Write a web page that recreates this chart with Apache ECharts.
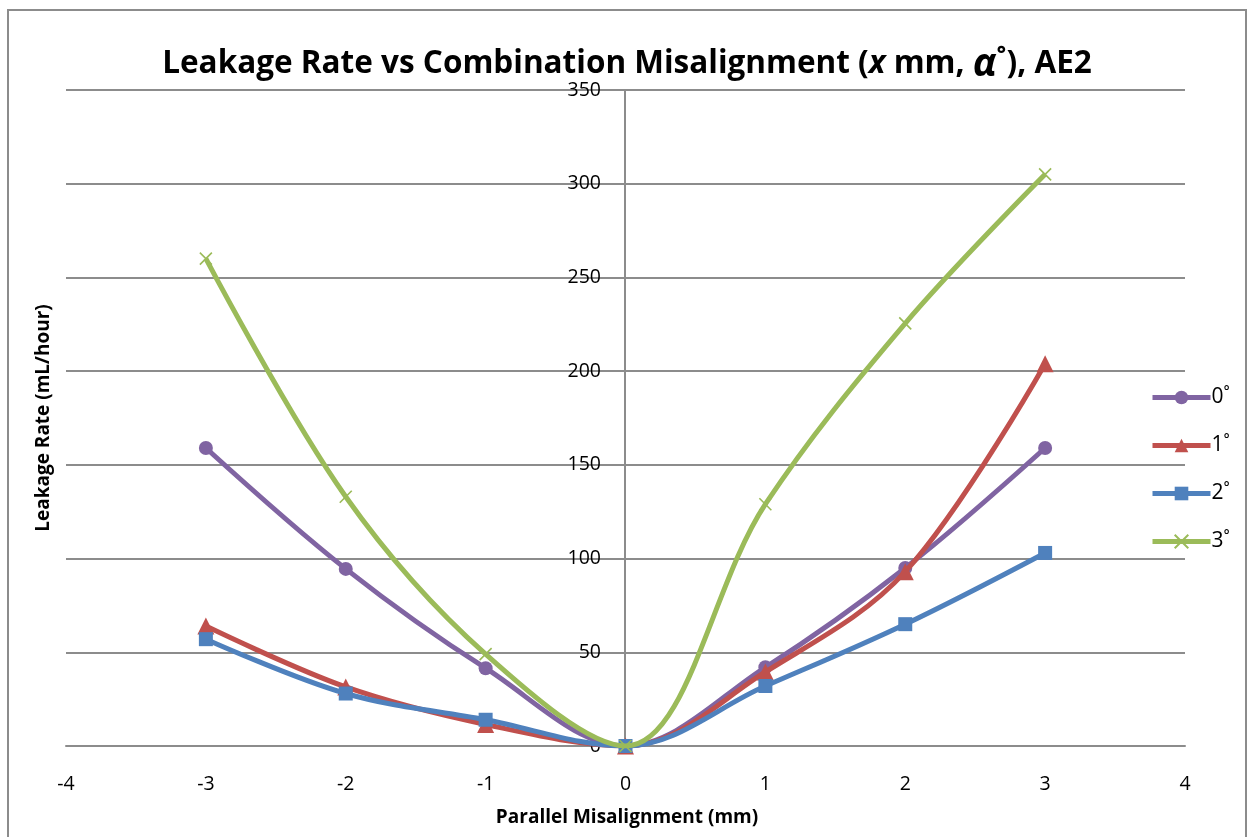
<!DOCTYPE html>
<html>
<head>
<meta charset="utf-8">
<script src="https://cdn.jsdelivr.net/npm/echarts@6/dist/echarts.min.js"></script>
<style>
html,body{margin:0;padding:0;background:#fff;}
#c{width:1254px;height:837px;}
</style>
</head>
<body>
<div id="c"></div>
<script>
const xValues = [-3, -2, -1, 0, 1, 2, 3];
const deg0 = [159, 94.5, 41.5, 0, 42, 95, 159];
const deg1 = [64, 31.5, 11.5, 0, 39.5, 93, 204];
const deg2 = [57, 28, 14, 0, 32, 65, 103];
const deg3 = [260, 133, 49, 0, 129, 225.5, 305];
const seriesNames = ['0˚', '1˚', '2˚', '3˚'];
const xTicks = {min: -4, max: 4, interval: 1};
const yTicks = {min: 0, max: 350, interval: 50};

const FONT = '"Open Sans", "Liberation Sans", sans-serif';
const colors = ['#8064A2', '#C0504D', '#4F81BD', '#9BBB59'];
const symbols = ['circle', 'triangle', 'rect', 'path://M0,0L10,10M10,0L0,10'];
const symbolSizes = [14, 17, 14, 12];
const allData = [deg0, deg1, deg2, deg3];

function pairs(arr) { return xValues.map((x, i) => [x, arr[i]]); }

const chart = echarts.init(document.getElementById('c'), null, {renderer: 'canvas'});
const series = allData.map((d, i) => ({
  name: seriesNames[i],
  type: 'line',
  data: pairs(d),
  smooth: 0.35,
  symbol: symbols[i],
  symbolSize: symbolSizes[i],
  showAllSymbol: true,
  lineStyle: {color: colors[i], width: 5},
  itemStyle: i === 3 ? {color: colors[i], borderColor: colors[i], borderWidth: 1.6} : {color: colors[i]},
  z: 2 + i
}));

chart.setOption({
  animation: false,
  backgroundColor: '#fff',
  title: {
    text: 'Leakage Rate vs Combination Misalignment ({i|x} mm, {a|α}˚), AE2',
    left: 'center',
    top: 40,
    textStyle: {
      fontFamily: FONT, fontWeight: 'bold', fontSize: 31.5, color: '#000',
      rich: {
        i: {fontFamily: FONT, fontWeight: 'bold', fontStyle: 'italic', fontSize: 31.5, color: '#000'},
        a: {fontFamily: FONT, fontWeight: 'bold', fontStyle: 'italic', fontSize: 39, color: '#000'}
      }
    }
  },
  legend: {
    orient: 'vertical',
    left: 1145,
    top: 379,
    itemGap: 21,
    itemWidth: 58,
    itemHeight: 17,
    lineStyle: {width: 5},
    data: seriesNames,
    textStyle: {fontFamily: FONT, fontSize: 21, color: '#000', padding: [0, 0, 0, -4], lineHeight: 27}
  },
  grid: {left: 66, right: 69, top: 90, bottom: 91, containLabel: false},
  xAxis: {
    type: 'value',
    min: xTicks.min, max: xTicks.max, interval: xTicks.interval,
    axisLine: {onZero: true, lineStyle: {color: '#8c8c8c', width: 2}},
    axisTick: {show: false},
    splitLine: {show: false},
    axisLabel: {margin: 28, fontFamily: FONT, fontSize: 19.5, color: '#000'}
  },
  yAxis: {
    type: 'value',
    min: yTicks.min, max: yTicks.max, interval: yTicks.interval,
    offset: -559,
    axisLine: {show: true, onZero: false, lineStyle: {color: '#8c8c8c', width: 2}},
    axisTick: {show: false},
    splitLine: {show: true, lineStyle: {color: '#8c8c8c', width: 2}},
    axisLabel: {margin: 24, fontFamily: FONT, fontSize: 19.5, color: '#000'}
  },
  graphic: [
    {type: 'rect', shape: {x: 8, y: 10, width: 1238, height: 840}, style: {fill: 'none', stroke: '#8c8c8c', lineWidth: 2}, silent: true, z: -1},
    {type: 'text', left: 'center', top: 808, style: {text: 'Parallel Misalignment (mm)', fontFamily: FONT, fontWeight: 'bold', fontSize: 19, fill: '#000'}},
    {type: 'text', x: 44, y: 418, rotation: Math.PI / 2, style: {text: 'Leakage Rate (mL/hour)', fontFamily: FONT, fontWeight: 'bold', fontSize: 19, fill: '#000', align: 'center', verticalAlign: 'middle'}}
  ],
  series: series
});
</script>
</body>
</html>
